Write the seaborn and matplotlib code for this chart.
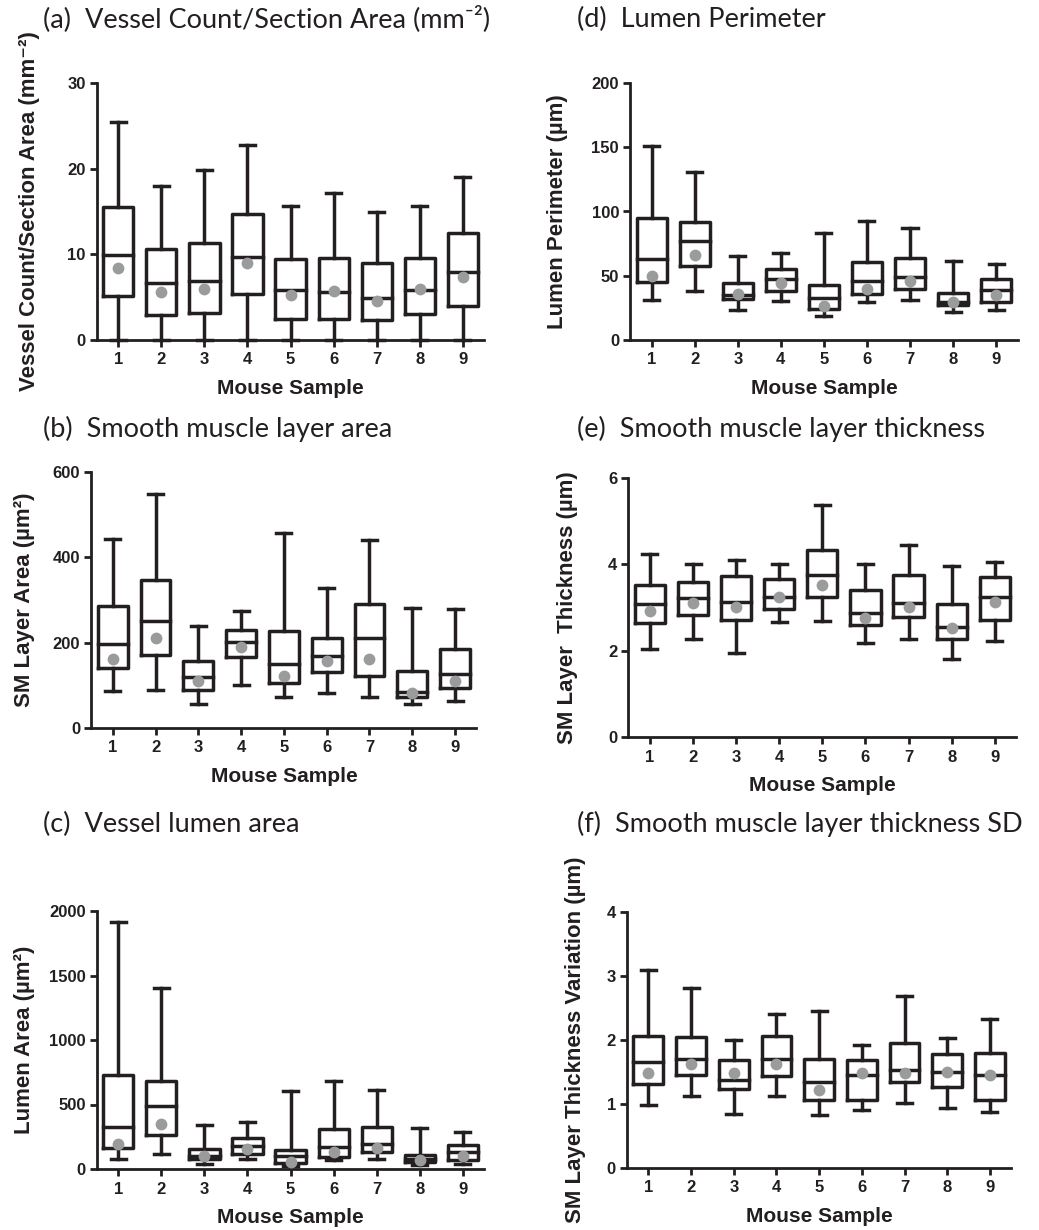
import numpy as np
import pandas as pd
import matplotlib
matplotlib.use("Agg")
import matplotlib.pyplot as plt
import seaborn as sns

samples = ["1", "2", "3", "4", "5", "6", "7", "8", "9"]

# (a) Vessel count / section area
a_low = [0, 0, 0, 0, 0, 0, 0, 0, 0]
a_q1 = [5.1, 2.9, 3.1, 5.4, 2.5, 2.5, 2.3, 3.0, 4.0]
a_med = [9.9, 6.6, 6.9, 9.7, 5.8, 5.6, 4.9, 5.8, 7.9]
a_q3 = [15.5, 10.6, 11.3, 14.7, 9.4, 9.6, 9.0, 9.6, 12.5]
a_high = [25.5, 18.0, 19.9, 22.8, 15.7, 17.2, 14.9, 15.6, 19.0]
a_mean = [8.4, 5.6, 5.9, 9.0, 5.2, 5.7, 4.6, 5.9, 7.4]

# (d) Lumen perimeter
d_low = [31.2, 38.2, 23.1, 30.6, 18.7, 29.4, 31.2, 21.8, 23.4]
d_q1 = [45.5, 57.7, 31.7, 38.4, 23.9, 35.6, 40.0, 27.3, 29.9]
d_med = [62.9, 77.4, 35.1, 47.5, 32.5, 46.2, 48.8, 29.9, 39.0]
d_q3 = [94.8, 92.2, 44.2, 55.1, 43.1, 61.0, 64.2, 36.4, 47.3]
d_high = [151.0, 131.0, 65.5, 67.5, 83.6, 92.5, 86.8, 61.6, 59.5]
d_mean = [49.9, 66.5, 35.8, 44.2, 26.8, 40.0, 46.0, 29.6, 35.3]

# (b) Smooth muscle layer area
b_low = [87, 90, 56, 101, 73, 83, 72, 56, 64]
b_q1 = [140, 172, 90, 167, 105, 131, 122, 73, 94]
b_med = [196, 250, 119, 201, 151, 168, 210, 85, 126]
b_q3 = [287, 347, 156, 229, 228, 210, 291, 133, 186]
b_high = [444, 549, 240, 275, 458, 328, 440, 282, 278]
b_mean = [161, 210, 110, 191, 123, 157, 161, 81, 111]

# (e) Smooth muscle layer thickness
e_low = [2.04, 2.28, 1.95, 2.66, 2.68, 2.17, 2.28, 1.80, 2.23]
e_q1 = [2.65, 2.83, 2.72, 2.97, 3.24, 2.59, 2.79, 2.28, 2.72]
e_med = [3.08, 3.21, 3.12, 3.25, 3.76, 2.88, 3.11, 2.55, 3.25]
e_q3 = [3.51, 3.58, 3.72, 3.66, 4.33, 3.40, 3.75, 3.09, 3.71]
e_high = [4.25, 4.01, 4.09, 4.01, 5.37, 4.01, 4.44, 3.96, 4.06]
e_mean = [2.93, 3.11, 3.01, 3.24, 3.52, 2.75, 3.01, 2.52, 3.12]

# (c) Vessel lumen area
c_low = [77, 116, 39, 77, 21, 72, 77, 34, 41]
c_q1 = [163, 266, 77, 119, 46, 93, 129, 52, 72]
c_med = [325, 485, 103, 181, 98, 170, 196, 77, 129]
c_q3 = [730, 679, 155, 237, 150, 310, 325, 108, 183]
c_high = [1912, 1401, 338, 364, 601, 679, 614, 317, 286]
c_mean = [196, 351, 98, 155, 52, 129, 163, 67, 103]

# (f) Smooth muscle layer thickness SD
f_low = [0.99, 1.13, 0.84, 1.12, 0.83, 0.90, 1.02, 0.93, 0.88]
f_q1 = [1.32, 1.45, 1.23, 1.43, 1.07, 1.07, 1.34, 1.27, 1.07]
f_med = [1.65, 1.71, 1.38, 1.71, 1.35, 1.45, 1.53, 1.50, 1.45]
f_q3 = [2.06, 2.04, 1.69, 2.07, 1.71, 1.69, 1.95, 1.78, 1.80]
f_high = [3.09, 2.82, 2.00, 2.41, 2.46, 1.92, 2.69, 2.03, 2.33]
f_mean = [1.48, 1.63, 1.49, 1.63, 1.22, 1.48, 1.49, 1.50, 1.45]

titles = ["(a)  Vessel Count/Section Area (mm\u207b\u00b2)",
          "(d)  Lumen Perimeter",
          "(b)  Smooth muscle layer area",
          "(e)  Smooth muscle layer thickness",
          "(c)  Vessel lumen area",
          "(f)  Smooth muscle layer thickness SD"]
ylabels = ["Vessel Count/Section Area (mm\u207b\u00b2)",
           "Lumen Perimeter (\u00b5m)",
           "SM Layer Area (\u00b5m\u00b2)",
           "SM Layer  Thickness (\u00b5m)",
           "Lumen Area (\u00b5m\u00b2)",
           "SM Layer Thickness Variation (\u00b5m)"]
xlabel = "Mouse Sample"

BLACK = "#231f20"
GRAY = "#9a9b9d"

sns.set_theme(style="ticks")
plt.rcParams["font.family"] = ["Liberation Sans", "DejaVu Sans"]
plt.rcParams["font.weight"] = "bold"
plt.rcParams["axes.labelweight"] = "bold"

W, H = 1039, 1230
fig = plt.figure(figsize=(W / 100, H / 100), dpi=100)

# pixel boxes: left, right, top, bottom
rects = [(96.8, 484.3, 83, 340),
         (630.2, 1017.6, 83, 340),
         (91.3, 476.5, 472, 728),
         (628.4, 1016.3, 478, 737),
         (96.8, 484.3, 911, 1169),
         (627.0, 1011.3, 912, 1168)]
ylims = [(0, 30), (0, 200), (0, 600), (0, 6), (0, 2000), (0, 4)]
yticks = [[0, 10, 20, 30], [0, 50, 100, 150, 200], [0, 200, 400, 600],
          [0, 2, 4, 6], [0, 500, 1000, 1500, 2000], [0, 1, 2, 3, 4]]
ylabel_x = [30, 557, 25, 567, 25, 575]
title_pos = [(43, 27), (577, 27), (43, 437), (577, 437), (43, 832), (577, 832)]

datasets = [(a_low, a_q1, a_med, a_q3, a_high, a_mean),
            (d_low, d_q1, d_med, d_q3, d_high, d_mean),
            (b_low, b_q1, b_med, b_q3, b_high, b_mean),
            (e_low, e_q1, e_med, e_q3, e_high, e_mean),
            (c_low, c_q1, c_med, c_q3, c_high, c_mean),
            (f_low, f_q1, f_med, f_q3, f_high, f_mean)]

for i, (lo, q1, md, q3, hi, mn) in enumerate(datasets):
    l, r, t, b = rects[i]
    ax = fig.add_axes([l / W, 1 - b / H, (r - l) / W, (b - t) / H])
    rows = []
    for s, vals in zip(samples, zip(lo, q1, md, q3, hi)):
        for v in vals:
            rows.append((s, v))
    df = pd.DataFrame(rows, columns=["sample", "value"])
    sns.boxplot(data=df, x="sample", y="value", order=samples, whis=(0, 100),
                width=0.7, fill=False, color=BLACK, linewidth=2.5, ax=ax)
    for ln in ax.lines:
        ln.set_clip_on(False)
        ln.set_solid_capstyle("projecting")
    sns.stripplot(x=samples, y=mn, order=samples, jitter=False, color=GRAY,
                  size=8.5, linewidth=0, ax=ax, zorder=5)
    for coll in ax.collections:
        coll.set_clip_on(False)
    ax.set_xlim(-0.5, 8.5)
    ax.set_ylim(*ylims[i])
    ax.set_yticks(yticks[i])
    sns.despine(ax=ax)
    for sp in ["left", "bottom"]:
        ax.spines[sp].set_linewidth(2.0)
        ax.spines[sp].set_color(BLACK)
    ax.tick_params(axis="both", direction="out", length=5, width=2,
                   color=BLACK, labelsize=12, labelcolor=BLACK, pad=3)
    ax.tick_params(axis="x", pad=4)
    for lab in ax.get_xticklabels() + ax.get_yticklabels():
        lab.set_fontweight("bold")
    ax.set_xlabel(xlabel, fontsize=15, fontweight="bold", color=BLACK, labelpad=8)
    ax.set_ylabel("")
    ax.patch.set_alpha(0)
    fig.text(ylabel_x[i] / W, 1 - ((t + b) / 2) / H, ylabels[i], rotation=90,
             ha="center", va="center", fontsize=16, fontweight="bold", color=BLACK)
    tx, ty = title_pos[i]
    fig.text(tx / W, 1 - ty / H, titles[i], ha="left", va="baseline",
             fontsize=19.5, fontweight="normal", color=BLACK,
             family=["Lato", "DejaVu Sans"])

fig.savefig("out.png", dpi=100)
